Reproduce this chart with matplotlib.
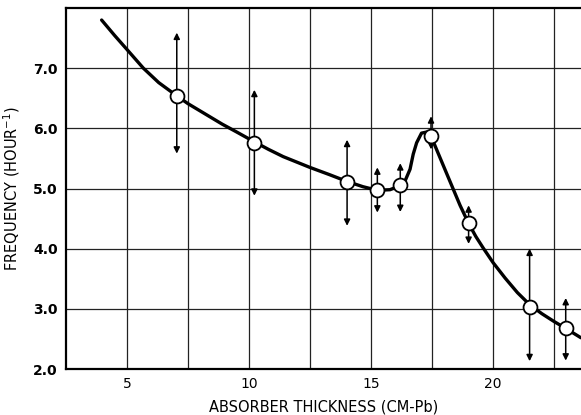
import numpy as np
import matplotlib.pyplot as plt
import matplotlib as mpl

mpl.rcParams['font.family'] = ['DejaVu Sans']

# measured points (cm Pb, counts per hour) with error half-widths
thick = [7.04, 10.22, 14.02, 15.26, 16.2, 17.46, 19.0, 21.5, 22.98]
freq = [6.54, 5.76, 5.11, 4.97, 5.06, 5.87, 4.42, 3.03, 2.68]
err_up = [1.05, 0.88, 0.70, 0.38, 0.36, 0.33, 0.30, 0.97, 0.50]
err_dn = [0.96, 0.88, 0.73, 0.37, 0.45, 0.22, 0.34, 0.90, 0.54]

# hand-drawn curve
curve_x = [3.96, 4.5, 5.0, 5.67, 6.3, 7.04, 7.5, 8.2, 8.9, 9.49, 10.2, 10.8,
           11.4, 12.5, 13.3, 14.0, 14.67, 15.26, 15.78, 16.2, 16.4, 16.6,
           16.73, 16.87, 17.07, 17.3, 17.5, 18.1, 18.65, 19.0, 19.3, 19.6,
           20.0, 20.5, 21.0, 21.5, 22.0, 22.5, 23.0, 23.6]
curve_y = [7.80, 7.54, 7.31, 7.00, 6.76, 6.54, 6.41, 6.24, 6.07, 5.94, 5.78,
           5.65, 5.53, 5.35, 5.23, 5.12, 5.03, 4.97, 4.98, 5.05, 5.13, 5.32,
           5.57, 5.76, 5.92, 5.94, 5.83, 5.25, 4.72, 4.42, 4.20, 4.01,
           3.77, 3.51, 3.27, 3.07, 2.92, 2.79, 2.67, 2.52]

xticks = [5, 10, 15, 20]
yticks = [2.0, 3.0, 4.0, 5.0, 6.0, 7.0]

fig = plt.figure(figsize=(5.81, 4.15), dpi=100)
ax = fig.add_axes([66 / 581, 46 / 415, 1 - 66 / 581, 361 / 415])
ax.set_xlim(2.5, 2.5 + 515 / 24.4)
ax.set_ylim(2.0, 8.0)

ax.set_xticks(xticks)
ax.set_xticklabels([str(t) for t in xticks])
ax.set_xticks(np.arange(7.5, 25, 5), minor=True)
ax.set_yticks(yticks)
ax.set_yticklabels(['%.1f' % t for t in yticks], fontweight='bold')
ax.tick_params(which='both', length=0, labelsize=10, pad=6)
ax.grid(which='both', color='#222222', linewidth=0.9)
ax.set_axisbelow(True)

for s in ['left', 'top', 'bottom']:
    ax.spines[s].set_linewidth(1.6)
ax.spines['right'].set_visible(False)

ax.plot(curve_x, curve_y, color='black', linewidth=2.4, zorder=3,
        solid_joinstyle='round', solid_capstyle='round')

for x, y, up, dn in zip(thick, freq, err_up, err_dn):
    for end in (y + up, y - dn):
        ax.annotate('', xy=(x, end), xytext=(x, y),
                    arrowprops=dict(arrowstyle='-|>', color='black', lw=1.1,
                                    mutation_scale=9, shrinkA=0, shrinkB=0),
                    zorder=4)

ax.plot(thick, freq, 'o', markersize=10, markerfacecolor='white',
        markeredgecolor='black', markeredgewidth=1.3, zorder=5, linestyle='none')

ax.set_xlabel('ABSORBER THICKNESS (CM-Pb)', fontsize=10.5, labelpad=6)
ax.set_ylabel('FREQUENCY (HOUR$^{-1}$)', fontsize=10.5, labelpad=8)

fig.savefig('out.png', dpi=100)
